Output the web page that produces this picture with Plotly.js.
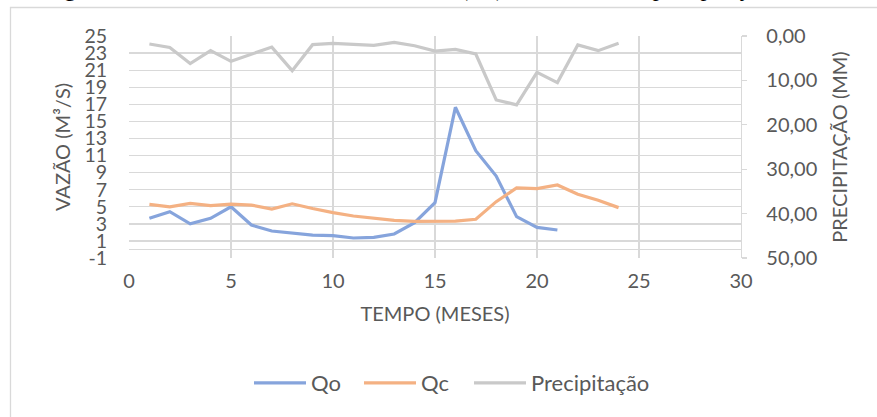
<!DOCTYPE html>
<html>
<head>
<meta charset="utf-8">
<script src="https://cdn.plot.ly/plotly-3.0.1.min.js"></script>
<style>html,body{margin:0;padding:0;background:#fff;}#chart{width:877px;height:417px;}</style>
</head>
<body>
<div id="chart"></div>
<script>
// ---- data ----
const monthsQo = [1,2,3,4,5,6,7,8,9,10,11,12,13,14,15,16,17,18,19,20,21];
const qo = [3.65,4.43,3.0,3.65,5.0,2.86,2.16,1.89,1.69,1.61,1.34,1.42,1.81,3.13,5.48,16.65,11.57,8.6,3.84,2.59,2.28];
const months = [1,2,3,4,5,6,7,8,9,10,11,12,13,14,15,16,17,18,19,20,21,22,23,24];
const qc = [5.28,5.0,5.4,5.13,5.3,5.2,4.74,5.35,4.8,4.31,3.92,3.7,3.41,3.3,3.33,3.33,3.53,5.6,7.2,7.13,7.55,6.46,5.76,4.9];
const precip = [1.8,2.6,6.2,3.3,5.7,4.1,2.5,7.8,1.95,1.65,1.95,2.1,1.43,2.2,3.38,3.0,4.05,14.4,15.5,8.2,10.5,2.0,3.3,1.65];
const seriesNames = ["Qo","Qc","Precipitação"];
const xTickVals = [0,5,10,15,20,25,30];
const yTickVals = [-1,1,3,5,7,9,11,13,15,17,19,21,23,25];
const yTickText = ["-1","1","3","5","7","9","11","13","15","17","19","21","23","25"];
const y2TickVals = [0,10,20,30,40,50];
const xTitle = "TEMPO (MESES)";
const yTitle = "VAZÃO (M³/S)";
const y2Title = "PRECIPITAÇÃO (MM)";
const caption = "Figura 12 – Vazão média mensal calculada (Qc), observada e a precipitação";

const txt = "#595959";
const grid = "#d9d9d9";
const fnt = "Lato, 'Open Sans', sans-serif";

const traces = [
  {x: monthsQo, y: qo, name: seriesNames[0], type: "scatter", mode: "lines",
   line: {color: "#86a4dc", width: 3.2}, yaxis: "y", legend: "legend"},
  {x: months, y: qc, name: seriesNames[1], type: "scatter", mode: "lines",
   line: {color: "#f4b183", width: 3.2}, yaxis: "y", legend: "legend2"},
  {x: months, y: precip, name: seriesNames[2], type: "scatter", mode: "lines",
   line: {color: "#c9c9c9", width: 3.2}, yaxis: "y2", legend: "legend3"}
];

function leg(px) {
  return {orientation: "h", x: (px - 8 - 129) / 612, xanchor: "left", y: (258 - 383) / 222, yanchor: "middle",
          font: {family: fnt, size: 22, color: txt}, itemwidth: 52, bgcolor: "rgba(0,0,0,0)"};
}

const layout = {
  width: 877, height: 417,
  margin: {l: 129, r: 136, t: 36, b: 159},
  paper_bgcolor: "#ffffff", plot_bgcolor: "#ffffff",
  separators: ",.",
  font: {family: fnt, size: 20, color: txt},
  showlegend: true,
  legend: leg(257),
  legend2: leg(367),
  legend3: leg(477),
  xaxis: {range: [0, 30], tickvals: xTickVals, showgrid: true, gridcolor: grid, gridwidth: 1.3,
          zeroline: false, showline: false, ticks: "", ticklabelstandoff: 9,
          tickfont: {family: fnt, size: 20, color: txt},
          title: {text: xTitle, font: {family: fnt, size: 20, color: txt}, standoff: 15}},
  yaxis: {range: [-1, 25], tickvals: yTickVals, ticktext: yTickText, showgrid: true, gridcolor: grid, gridwidth: 1.3,
          zeroline: true, zerolinecolor: grid, zerolinewidth: 1.3, showline: false, ticks: "",
          ticklabelstandoff: 21, tickfont: {family: fnt, size: 19.5, color: txt},
          title: {text: yTitle, font: {family: fnt, size: 20, color: txt}, standoff: 8}},
  yaxis2: {overlaying: "y", side: "right", range: [50, 0], tickvals: y2TickVals, tickformat: ".2f",
           showgrid: false, zeroline: false, showline: true, linecolor: grid, linewidth: 1.3,
           ticks: "outside", ticklen: 5, tickcolor: grid, tickwidth: 1.3, ticklabelstandoff: 15,
           tickfont: {family: fnt, size: 20, color: txt},
           title: {text: y2Title, font: {family: fnt, size: 20, color: txt}, standoff: 16}},
  shapes: [
    {type: "rect", xref: "paper", yref: "paper",
     x0: (10.5 - 129) / 612, x1: (885 - 129) / 612, y0: (258 - 430) / 222, y1: 1 + (36 - 7.5) / 222,
     line: {color: grid, width: 1.3}, fillcolor: "rgba(0,0,0,0)", layer: "below"}
  ],
  annotations: [
    {text: caption, xref: "paper", yref: "paper", x: (42 - 129) / 612, xanchor: "left",
     y: 1 + (36 - 3) / 222, yanchor: "bottom", showarrow: false,
     font: {family: "'Liberation Serif', 'DejaVu Serif', serif", size: 24, color: "#000000"}}
  ]
};

Plotly.newPlot("chart", traces, layout, {displayModeBar: false, staticPlot: true});
</script>
</body>
</html>
